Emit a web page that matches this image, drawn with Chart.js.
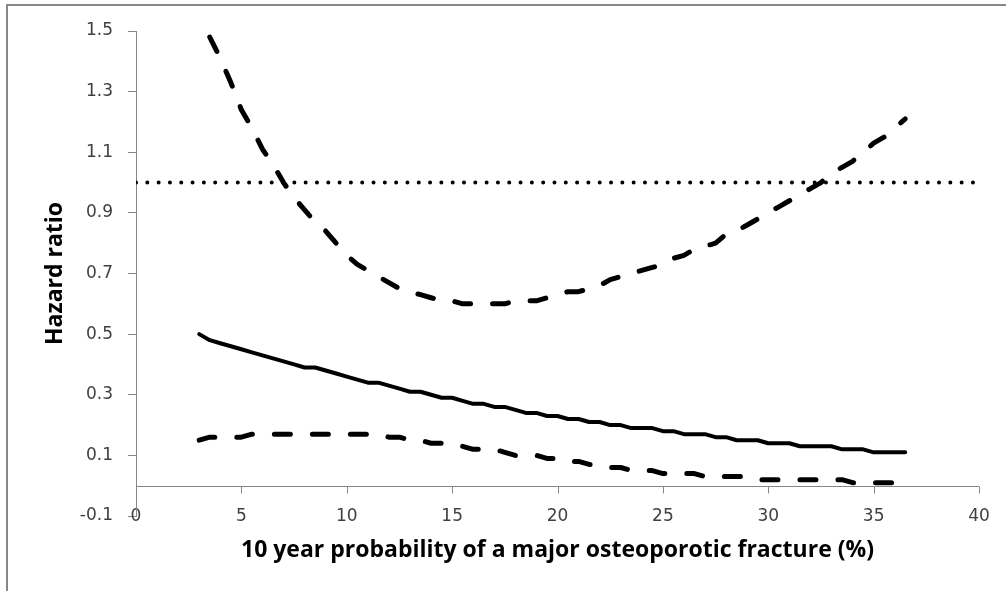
<!DOCTYPE html>
<html>
<head>
<meta charset="utf-8">
<script src="https://cdn.jsdelivr.net/npm/chart.js@4.4.0/dist/chart.umd.min.js"></script>
<style>
    html, body { margin: 0; padding: 0; background: #fff; }
    #wrap { position: relative; width: 1006px; height: 591px; overflow: hidden; }
    #frame { position: absolute; left: 6px; top: 4px; width: 1100px; height: 700px;
             border-left: 2px solid #878787; border-top: 2px solid #878787; pointer-events: none; }
    canvas { position: absolute; left: 0; top: 0; }
</style>
</head>
<body>
<div id="wrap">
    <canvas id="chart" width="1006" height="591"></canvas>
    <div id="frame"></div>
</div>
<script>
// 10 year probability (%) at which each curve was evaluated
const probability = [
    3.0, 3.5, 4.0, 4.5, 5.0, 5.5, 6.0, 6.5, 7.0, 7.5,
    8.0, 8.5, 9.0, 9.5, 10.0, 10.5, 11.0, 11.5, 12.0, 12.5,
    13.0, 13.5, 14.0, 14.5, 15.0, 15.5, 16.0, 16.5, 17.0, 17.5,
    18.0, 18.5, 19.0, 19.5, 20.0, 20.5, 21.0, 21.5, 22.0, 22.5,
    23.0, 23.5, 24.0, 24.5, 25.0, 25.5, 26.0, 26.5, 27.0, 27.5,
    28.0, 28.5, 29.0, 29.5, 30.0, 30.5, 31.0, 31.5, 32.0, 32.5,
    33.0, 33.5, 34.0, 34.5, 35.0, 35.5, 36.0, 36.5
];

// hazard ratio estimate
const hazardRatio = [
    0.50, 0.48, 0.47, 0.46, 0.45, 0.44, 0.43, 0.42, 0.41, 0.40,
    0.39, 0.39, 0.38, 0.37, 0.36, 0.35, 0.34, 0.34, 0.33, 0.32,
    0.31, 0.31, 0.30, 0.29, 0.29, 0.28, 0.27, 0.27, 0.26, 0.26,
    0.25, 0.24, 0.24, 0.23, 0.23, 0.22, 0.22, 0.21, 0.21, 0.20,
    0.20, 0.19, 0.19, 0.19, 0.18, 0.18, 0.17, 0.17, 0.17, 0.16,
    0.16, 0.15, 0.15, 0.15, 0.14, 0.14, 0.14, 0.13, 0.13, 0.13,
    0.13, 0.12, 0.12, 0.12, 0.11, 0.11, 0.11, 0.11
];

// upper 95% confidence limit
const upperLimit = [
    null, 1.48, 1.41, 1.33, 1.24, 1.18, 1.11, 1.06, 1.00, 0.95,
    0.91, 0.87, 0.84, 0.80, 0.76, 0.73, 0.71, 0.69, 0.67, 0.65,
    0.64, 0.63, 0.62, 0.61, 0.61, 0.60, 0.60, 0.60, 0.60, 0.60,
    0.61, 0.61, 0.61, 0.62, 0.63, 0.64, 0.64, 0.65, 0.66, 0.68,
    0.69, 0.70, 0.71, 0.72, 0.73, 0.75, 0.76, 0.78, 0.79, 0.80,
    0.83, 0.84, 0.86, 0.88, 0.90, 0.92, 0.94, 0.96, 0.98, 1.00,
    1.03, 1.05, 1.07, 1.10, 1.13, 1.15, 1.18, 1.21
];

// lower 95% confidence limit
const lowerLimit = [
    0.15, 0.16, 0.16, 0.16, 0.16, 0.17, 0.17, 0.17, 0.17, 0.17,
    0.17, 0.17, 0.17, 0.17, 0.17, 0.17, 0.17, 0.17, 0.16, 0.16,
    0.15, 0.15, 0.14, 0.14, 0.14, 0.13, 0.12, 0.12, 0.12, 0.11,
    0.10, 0.10, 0.10, 0.09, 0.09, 0.08, 0.08, 0.07, 0.07, 0.06,
    0.06, 0.05, 0.05, 0.05, 0.04, 0.04, 0.04, 0.04, 0.03, 0.03,
    0.03, 0.03, 0.03, 0.02, 0.02, 0.02, 0.02, 0.02, 0.02, 0.02,
    0.02, 0.02, 0.01, 0.01, 0.01, 0.01, 0.01, 0.01
];

// reference line at HR = 1
const refX = [0, 40];
const refY = [1, 1];

const yTicks = [-0.1, 0.1, 0.3, 0.5, 0.7, 0.9, 1.1, 1.3, 1.5];
const axisColor = '#868686';
const labelColor = '#404040';

function toPoints(xs, ys) {
    return xs.map((x, i) => ({ x: x, y: ys[i] }));
}

// Excel style: the horizontal axis line crosses at y = 0, labels stay low
const zeroAxisPlugin = {
    id: 'zeroAxis',
    beforeDatasetsDraw(chart) {
        const ctx = chart.ctx;
        const xs = chart.scales.x;
        const ys = chart.scales.y;
        const y0 = Math.round(ys.getPixelForValue(0)) + 0.5;
        ctx.save();
        ctx.strokeStyle = axisColor;
        ctx.lineWidth = 1;
        ctx.beginPath();
        ctx.moveTo(xs.left, y0);
        ctx.lineTo(xs.right, y0);
        xs.ticks.forEach(t => {
            const px = Math.round(xs.getPixelForValue(t.value)) + 0.5;
            ctx.moveTo(px, y0);
            ctx.lineTo(px, y0 + 7);
        });
        ctx.stroke();
        ctx.restore();
    }
};

const ctx = document.getElementById('chart').getContext('2d');
new Chart(ctx, {
    type: 'line',
    data: {
        datasets: [{
            label: 'Hazard ratio',
            data: toPoints(probability, hazardRatio),
            borderColor: '#000',
            borderWidth: 4,
            borderCapStyle: 'round',
            borderJoinStyle: 'round',
            pointRadius: 0
        }, {
            label: 'Upper limit',
            data: toPoints(probability, upperLimit),
            borderColor: '#000',
            borderWidth: 5,
            borderDash: [16, 22],
            borderCapStyle: 'round',
            borderJoinStyle: 'round',
            pointRadius: 0
        }, {
            label: 'Lower limit',
            data: toPoints(probability, lowerLimit),
            borderColor: '#000',
            borderWidth: 5,
            borderDash: [16, 22],
            borderCapStyle: 'round',
            borderJoinStyle: 'round',
            pointRadius: 0
        }, {
            label: 'Reference',
            data: toPoints(refX, refY),
            borderColor: '#000',
            borderWidth: 4,
            borderDash: [0.01, 11.3],
            borderCapStyle: 'round',
            pointRadius: 0
        }]
    },
    options: {
        responsive: false,
        animation: false,
        events: [],
        layout: { padding: { left: 8, top: 31, right: 27, bottom: 0 } },
        plugins: {
            legend: { display: false },
            tooltip: { enabled: false }
        },
        scales: {
            x: {
                type: 'linear',
                min: 0,
                max: 40,
                grid: { display: false, drawTicks: false },
                border: { display: false },
                ticks: {
                    stepSize: 5,
                    mirror: true,
                    padding: -11.2,
                    color: labelColor,
                    font: { family: 'DejaVu Sans', size: 17 }
                },
                title: {
                    display: true,
                    text: '10 year probability of a major osteoporotic fracture (%)',
                    color: '#000',
                    font: { family: 'Open Sans', size: 23, weight: 'bold' },
                    padding: { top: 0, bottom: 27 }
                },
                afterFit(scale) { scale.height = 75; }
            },
            y: {
                min: -0.1,
                max: 1.5,
                afterBuildTicks(scale) {
                    scale.ticks = yTicks.map(v => ({ value: v }));
                },
                grid: {
                    drawOnChartArea: false,
                    drawTicks: true,
                    tickLength: 8,
                    color: axisColor
                },
                border: { display: true, color: axisColor },
                ticks: {
                    padding: 15,
                    color: labelColor,
                    font: { family: 'DejaVu Sans', size: 17 },
                    callback: v => v.toFixed(1)
                },
                title: {
                    display: true,
                    text: 'Hazard ratio',
                    color: '#000',
                    font: { family: 'Open Sans', size: 23, weight: 'bold' },
                    padding: { top: 34, bottom: 0 }
                },
                afterFit(scale) { scale.width = 128; }
            }
        }
    },
    plugins: [zeroAxisPlugin]
});
</script>
</body>
</html>
